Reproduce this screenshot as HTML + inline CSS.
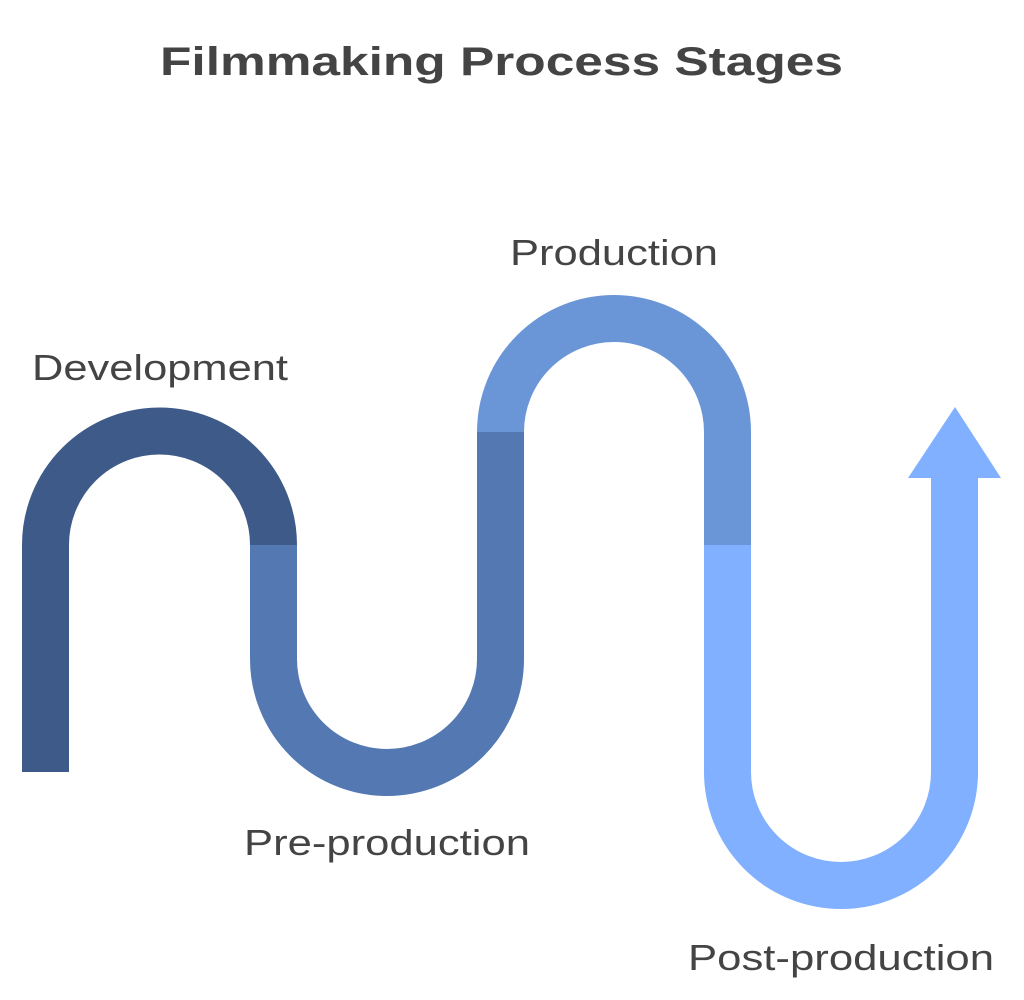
<!DOCTYPE html>
<html><head><meta charset="utf-8"><style>html,body{margin:0;padding:0;background:#fff}svg{display:block}</style></head>
<body>
<svg width="1024" height="1000" viewBox="0 0 1024 1000" xmlns="http://www.w3.org/2000/svg">
<g fill="none" stroke-width="47" stroke-linecap="butt">
<path d="M45.5 772 L45.5 545 A114 114 0 0 1 159.5 431 A114 114 0 0 1 273.5 545" stroke="#3e5a88"/>
<path d="M273.5 545 L273.5 659 A113.5 113.5 0 0 0 387 772.5 A113.5 113.5 0 0 0 500.5 659 L500.5 430" stroke="#5478b2"/>
<path d="M500.5 432 A113.5 113.5 0 0 1 614 318.5 A113.5 113.5 0 0 1 727.5 432 L727.5 545" stroke="#6a96d8"/>
<path d="M727.5 545 L727.5 772 A113.5 113.5 0 0 0 841 885.5 A113.5 113.5 0 0 0 954.5 772 L954.5 476" stroke="#80b0ff"/>
</g>
<polygon points="908,478 1001,478 955,407" fill="#80b0ff"/>
<g font-family="'Liberation Sans', sans-serif" fill="#444">
<text x="160" y="75" font-size="40" font-weight="bold" textLength="683" lengthAdjust="spacingAndGlyphs">Filmmaking Process Stages</text>
<text x="32" y="380" font-size="36" textLength="256" lengthAdjust="spacingAndGlyphs">Development</text>
<text x="510" y="265" font-size="36" textLength="208" lengthAdjust="spacingAndGlyphs">Production</text>
<text x="244" y="855" font-size="36" textLength="286" lengthAdjust="spacingAndGlyphs">Pre-production</text>
<text x="688" y="970" font-size="36" textLength="306" lengthAdjust="spacingAndGlyphs">Post-production</text>
</g>
</svg>
</body></html>
